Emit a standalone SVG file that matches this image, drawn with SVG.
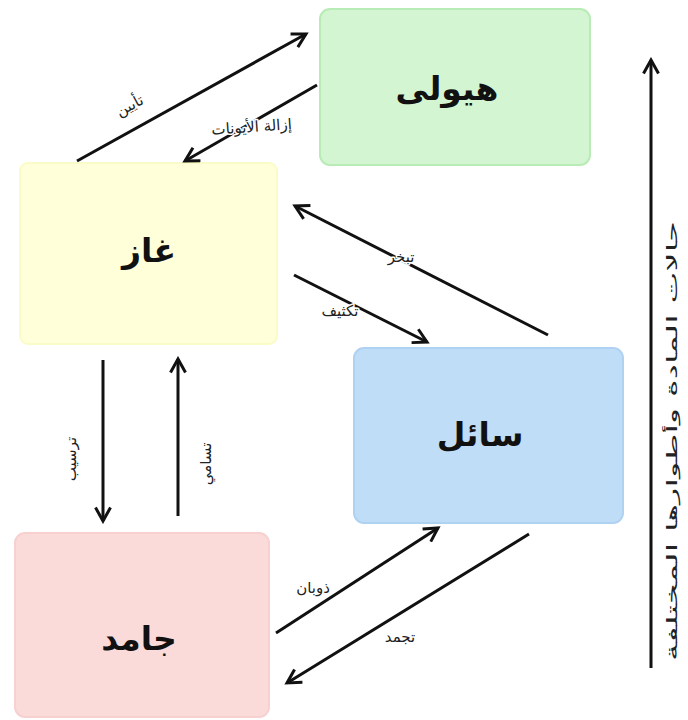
<svg xmlns="http://www.w3.org/2000/svg" width="688" height="720" viewBox="0 0 688 720">
<style>
.box{stroke-width:2}
.title{font-family:"DejaVu Sans",sans-serif;font-weight:bold;font-size:33px;fill:#111;text-anchor:middle}
.lbl{font-family:"DejaVu Sans",sans-serif;font-size:15px;fill:#222;text-anchor:middle;stroke:#fff;stroke-width:3px;paint-order:stroke;stroke-linejoin:round}
.ln{stroke:#111;stroke-width:3;fill:none;marker-end:url(#ah)}
</style>
<defs>
<marker id="ah" viewBox="0 0 12 12" refX="10" refY="6" markerWidth="6" markerHeight="6" markerUnits="strokeWidth" orient="auto">
<path d="M1,1 L10,6 L1,11" fill="none" stroke="#111" stroke-width="2"/>
</marker>
</defs>
<rect width="688" height="720" fill="#fff"/>
<g id="plasma"><rect class="box" x="320" y="9" width="270" height="156" rx="10" fill="#d4f5d2" stroke="#b8ebb5"/><text class="title" x="447" y="100">هيولى</text></g>
<g id="gas"><rect class="box" x="20" y="163" width="257" height="181" rx="8" fill="#ffffd9" stroke="#fbfbc8"/><text class="title" x="149" y="262">غاز</text></g>
<g id="liquid"><rect class="box" x="354" y="348" width="269" height="175" rx="10" fill="#c0ddf8" stroke="#b0d2f2"/><text class="title" x="480" y="446">سائل</text></g>
<g id="solid"><rect class="box" x="15" y="533" width="254" height="184" rx="10" fill="#fbdada" stroke="#f7d0d0"/><text class="title" x="139" y="650">جامد</text></g>
<g id="connectors">
<line class="ln" x1="77" y1="161" x2="306" y2="34"/>
<line class="ln" x1="317" y1="85" x2="185" y2="161"/>
<line class="ln" x1="548" y1="335" x2="295" y2="206"/>
<line class="ln" x1="294" y1="275" x2="427" y2="342"/>
<line class="ln" x1="103" y1="360" x2="103" y2="521"/>
<line class="ln" x1="178" y1="516" x2="178" y2="359"/>
<line class="ln" x1="276" y1="633" x2="438" y2="528"/>
<line class="ln" x1="529" y1="534" x2="287" y2="683"/>
<line class="ln" x1="651" y1="668" x2="651" y2="60"/>
</g>
<g id="labels">
<text class="lbl" font-size="16" transform="translate(132,110) rotate(-28)">تأيين</text>
<text class="lbl" transform="translate(252,132) rotate(-4)">إزالة الأيونات</text>
<text class="lbl" transform="translate(401,262)">تبخر</text>
<text class="lbl" transform="translate(340,316)">تكثيف</text>
<text class="lbl" transform="translate(76,459) rotate(-90)">ترسيب</text>
<text class="lbl" transform="translate(211,464) rotate(-90)">تسامي</text>
<text class="lbl" transform="translate(313,593)">ذوبان</text>
<text class="lbl" transform="translate(400,642)">تجمد</text>
<text class="lbl" font-size="18" textLength="440" lengthAdjust="spacingAndGlyphs" transform="translate(677,441) rotate(-90)">حالات المادة وأطوارها المختلفة</text>
</g>
</svg>
